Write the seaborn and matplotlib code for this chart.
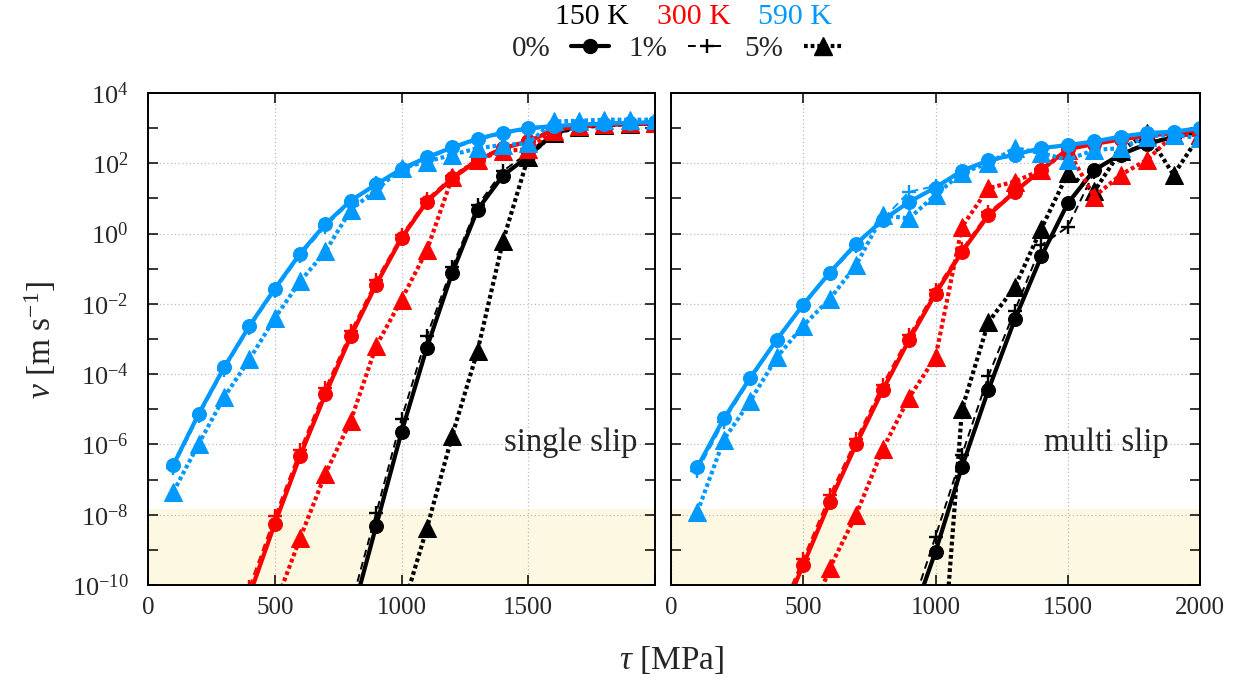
import numpy as np
import pandas as pd
import matplotlib
matplotlib.use("Agg")
import matplotlib.pyplot as plt
from matplotlib.lines import Line2D
import seaborn as sns

nan = np.nan
# shear stress tau [MPa]
tau = [100, 200, 300, 400, 500, 600, 700, 800, 900, 1000,
       1100, 1200, 1300, 1400, 1500, 1600, 1700, 1800, 1900, 2000]

# log10 of velocity v [m/s] -- single slip
s150_0 = [nan]*7 + [-11.0, -8.32, -5.65, -3.25, -1.12, 0.68, 1.65, 2.2, 2.85, 3.05, 3.1, 3.12, 3.14]
s150_1 = [nan]*7 + [-10.6, -7.96, -5.27, -2.92, -0.95, 0.8, 1.78, 2.3, 2.9, 3.07, 3.1, 3.12, 3.14]
s150_5 = [nan]*9 + [-10.8, -8.39, -5.75, -3.34, -0.22, 2.19, 2.85, 3.02, 3.08, 3.12, 3.14]
s300_0 = [nan]*3 + [-10.3, -8.26, -6.33, -4.57, -2.92, -1.45, -0.13, 0.91, 1.57, 2.08, 2.43, 2.62, 2.95, 3.05, 3.1, 3.12, 3.14]
s300_1 = [nan]*3 + [-10.05, -8.05, -6.15, -4.4, -2.78, -1.33, -0.05, 0.98, 1.63, 2.12, 2.46, 2.65, 2.96, 3.06, 3.1, 3.12, 3.14]
s300_5 = [nan]*4 + [-10.6, -8.67, -6.83, -5.32, -3.2, -1.88, -0.48, 1.6, 2.1, 2.35, 2.4, 2.92, 3.07, 3.12, 3.14, 3.15]
s590_0 = [-6.58, -5.13, -3.81, -2.63, -1.57, -0.57, 0.27, 0.94, 1.4, 1.84, 2.17, 2.45, 2.7, 2.87, 3.0, 3.06, 3.1, 3.13, 3.15, 3.17]
s590_1 = [-6.66, -5.2, -3.87, -2.68, -1.63, -0.63, 0.2, 0.9, 1.45, 1.8, 2.13, 2.41, 2.66, 2.84, 2.96, 3.03, 3.08, 3.12, 3.14, 3.16]
s590_5 = [-7.35, -5.98, -4.66, -3.58, -2.41, -1.36, -0.51, 0.68, 1.24, 1.86, 2.05, 2.24, 2.43, 2.52, 2.57, 3.19, 3.21, 3.24, 3.24, 3.24]

# log10 of velocity v [m/s] -- multi slip
m150_0 = [nan]*8 + [-11.2, -9.05, -6.64, -4.45, -2.44, -0.65, 0.86, 1.81, 2.25, 2.55, 2.75, 2.9]
m150_1 = [nan]*8 + [-10.9, -8.62, -6.3, -4.05, -2.19, -0.33, 0.19, 1.75, 2.3, 2.58, 2.78, 2.92]
m150_5 = [nan]*9 + [-15.0, -5.0, -2.52, -1.52, 0.14, 1.71, 1.2, 2.35, 2.86, 1.67, 2.81]
m300_0 = [nan]*3 + [-11.2, -9.43, -7.64, -6.0, -4.46, -3.03, -1.71, -0.52, 0.52, 1.19, 1.81, 2.4, 2.55, 2.68, 2.78, 2.86, 2.95]
m300_1 = [nan]*3 + [-11.0, -9.25, -7.45, -5.85, -4.3, -2.9, -1.6, -0.45, 0.6, 1.22, 1.85, 2.43, 2.58, 2.7, 2.8, 2.88, 2.95]
m300_5 = [nan]*4 + [-11.5, -9.52, -8.0, -6.14, -4.67, -3.52, 0.19, 1.29, 1.48, 1.81, 2.38, 1.05, 1.67, 2.1, 2.81, 2.81]
m590_0 = [-6.64, -5.26, -4.10, -3.02, -2.02, -1.11, -0.29, 0.38, 0.9, 1.31, 1.79, 2.08, 2.25, 2.43, 2.52, 2.62, 2.76, 2.86, 2.9, 3.0]
m590_1 = [-6.76, -5.35, -4.15, -3.05, -2.05, -1.15, -0.35, 0.4, 1.19, 1.35, 1.75, 2.05, 2.22, 2.4, 2.5, 2.6, 2.73, 2.83, 2.88, 2.97]
m590_5 = [-7.92, -5.86, -4.76, -3.52, -2.62, -1.86, -0.9, 0.52, 0.43, 1.1, 1.73, 2.0, 2.43, 2.29, 2.1, 2.38, 2.43, 2.76, 2.81, 2.71]

temps = ["150 K", "300 K", "590 K"]
concs = ["0%", "1%", "5%"]
panel_labels = ["single slip", "multi slip"]

sns.set_style("ticks")
plt.rcParams["font.family"] = ["Liberation Serif", "DejaVu Serif"]
plt.rcParams["mathtext.fontset"] = "custom"
plt.rcParams["mathtext.rm"] = "Liberation Serif"
plt.rcParams["mathtext.it"] = "Liberation Serif:italic"
plt.rcParams["mathtext.bf"] = "Liberation Serif:bold"

colors = {"150 K": "black", "300 K": "#ff0000", "590 K": "#0099ff"}
styles = {
    "0%": dict(ls="-", lw=3.0, marker="o", ms=10),
    "1%": dict(ls=(0, (4, 2.5)), lw=1.4, marker="+", ms=10.5, mew=1.7),
    "5%": dict(ls=(0, (0.9, 0.7)), lw=3.0, marker="^", ms=12.5),
}

data = {
    "single slip": {("150 K", "0%"): s150_0, ("150 K", "1%"): s150_1, ("150 K", "5%"): s150_5,
                    ("300 K", "0%"): s300_0, ("300 K", "1%"): s300_1, ("300 K", "5%"): s300_5,
                    ("590 K", "0%"): s590_0, ("590 K", "1%"): s590_1, ("590 K", "5%"): s590_5},
    "multi slip": {("150 K", "0%"): m150_0, ("150 K", "1%"): m150_1, ("150 K", "5%"): m150_5,
                   ("300 K", "0%"): m300_0, ("300 K", "1%"): m300_1, ("300 K", "5%"): m300_5,
                   ("590 K", "0%"): m590_0, ("590 K", "1%"): m590_1, ("590 K", "5%"): m590_5},
}

W, H = 1239, 684
fig = plt.figure(figsize=(W / 100, H / 100), dpi=100)
ax_l = fig.add_axes([148 / W, 1 - 585 / H, 507 / W, 492 / H])
ax_r = fig.add_axes([671 / W, 1 - 585 / H, 529 / W, 492 / H])

major_y = [10.0 ** k for k in range(-10, 5, 2)]
minor_y = [10.0 ** k for k in range(-9, 4, 2)]
ylabels = [r"$10^{%d}$" % k for k in range(-10, 5, 2)]

for ax, pname in zip([ax_l, ax_r], panel_labels):
    ax.set_yscale("log")
    ax.set_xlim(0, 2000)
    ax.set_ylim(1e-10, 1e4)
    ax.axhspan(1e-10, 1.5e-8, color="#fdf8e1", zorder=0, lw=0)
    for T in temps:
        for c in concs:
            y = 10.0 ** np.array(data[pname][(T, c)], dtype=float)
            df = pd.DataFrame({"tau": tau, "v": y}).dropna()
            st = dict(styles[c])
            sns.lineplot(data=df, x="tau", y="v", ax=ax, color=colors[T],
                         mec=colors[T], mfc=colors[T], errorbar=None,
                         zorder=3, clip_on=True, **st)
    ax.set_xlabel("")
    ax.set_ylabel("")
    ax.set_yticks(major_y)
    ax.set_yticks(minor_y, minor=True)
    ax.set_xticks([0, 500, 1000, 1500, 2000])
    ax.grid(True, which="major", color="#bdbdbd", ls=(0, (1, 2)), lw=0.9)
    ax.tick_params(which="both", direction="in", top=True, right=True,
                   length=7, width=1.1, color="black")
    ax.tick_params(axis="x", pad=9, labelsize=18)
    ax.tick_params(axis="y", labelsize=19)
    ax.yaxis.set_minor_formatter(matplotlib.ticker.NullFormatter())
    for sp in ax.spines.values():
        sp.set_linewidth(1.4)
        sp.set_color("black")
        sp.set_zorder(5)
    ax.text(0.965 if pname == "single slip" else 0.94, 0.289, pname,
            transform=ax.transAxes, ha="right", va="center", fontsize=23.5)

ax_l.set_yticklabels(ylabels)
ax_l.set_xticklabels(["0", "500", "1000", "1500", ""])
ax_r.set_yticklabels([""] * len(major_y))
ax_r.set_xticklabels(["0", "500", "1000", "1500", "2000"])
ax_l.tick_params(axis="y", pad=14)

fig.text(672 / W, 1 - 660 / H, r"$\tau$ [MPa]", ha="center", va="center", fontsize=24)
fig.text(40 / W, 1 - 340 / H, r"$v$ [m s$^{-1}$]", ha="center", va="center",
         rotation=90, fontsize=24)

# temperature colour key
for T, xc in zip(temps, [592, 694, 795]):
    fig.text(xc / W, 1 - 17 / H, T, color=colors[T], ha="center", va="center", fontsize=21.5)

handles = [Line2D([], [], color="black", mec="black", mfc="black", **styles[c]) for c in concs]
fig.legend(handles, concs, loc="center", bbox_to_anchor=(677 / W, 1 - 49 / H), ncol=3,
           frameon=False, markerfirst=False, fontsize=21, handlelength=1.3,
           handletextpad=0.7, columnspacing=0.65, borderpad=0, borderaxespad=0)

fig.savefig("out.png", dpi=100)
